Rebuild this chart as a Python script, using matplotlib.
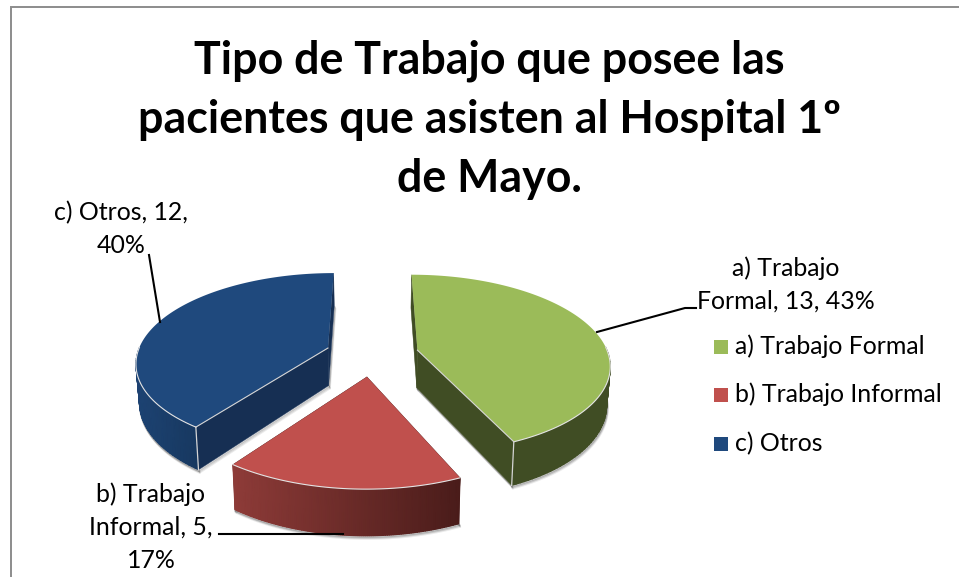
import numpy as np
import matplotlib
matplotlib.use("Agg")
import matplotlib.pyplot as plt
from matplotlib.colors import LinearSegmentedColormap

plt.rcParams['font.family'] = ['Lato', 'DejaVu Sans']

title_lines = ["Tipo de Trabajo que posee las",
               "pacientes que asisten al Hospital 1º",
               "de Mayo."]
categories = ["a) Trabajo Formal", "b) Trabajo Informal", "c) Otros"]
values = [13, 5, 12]
percents = [43, 17, 40]

top_colors = ["#9BBB59", "#C0504D", "#1F497D"]
cut_colors = ["#404D24", "#4F1F1D", "#162F53"]
rim_left = ["#404D24", "#8E3B38", "#1D4373"]
rim_right = ["#404D24", "#4A1C1A", "#173860"]

# projection of the tilted pie, in pixels
vx, vy = 372.0, 354.6
rx, ry = 191.0, 88.0
persp = 0.15
depth = 38.0
explode = 0.245


def project(X, Y, low=False):
    s = 1.0 / (1.0 - persp * Y)
    if low:
        return vx + rx * X * s * 0.985, vy + ry * Y * s + depth * s
    return vx + rx * X * s, vy + ry * Y * s


fig = plt.figure(figsize=(9.59, 5.77), dpi=100)
ax = fig.add_axes([0, 0, 1, 1])
ax.set_xlim(0, 959)
ax.set_ylim(577, 0)
ax.axis('off')

# frame of the chart area
ax.plot([11, 11, 959], [577, 7, 7], color="#8C8C8C", lw=1.4, solid_joinstyle='miter')

order = [0, 2, 1]
fractions = np.array(values) / sum(values)
edges = np.concatenate([[0], np.cumsum(fractions)]) * 2 * np.pi

for i in order:
    a0, a1 = edges[i], edges[i + 1]
    mid = (a0 + a1) / 2
    cx, cy = explode * np.sin(mid), -explode * np.cos(mid)
    t = np.linspace(a0, a1, 120)
    X = cx + np.sin(t)
    Y = cy - np.cos(t)
    xt, yt = project(X, Y)
    xb, yb = project(X, Y, low=True)
    ax_t, ay_t = project(cx, cy)
    ax_b, ay_b = project(cx, cy, low=True)
    vis = Y > -0.1

    # soft shadow under the front edge
    for off, alpha in [(3, 0.08), (2, 0.14), (1, 0.2)]:
        ax.plot(xb[vis] + off * 0.4, yb[vis] + off, color="black", alpha=alpha, lw=1.5, zorder=1)
        ax.plot([ax_b + off * 0.5, xb[0] + off * 0.5], [ay_b + off, yb[0] + off], color="black", alpha=alpha, lw=1.0, zorder=1)
        ax.plot([ax_b + off * 0.5, xb[-1] + off * 0.5], [ay_b + off, yb[-1] + off], color="black", alpha=alpha, lw=1.0, zorder=1)

    # cut faces
    for k in [0, -1]:
        ax.fill([ax_t, xt[k], xb[k], ax_b], [ay_t, yt[k], yb[k], ay_b],
                color=cut_colors[i], lw=0.3, zorder=2)

    # outer side, shading runs left to right
    cmap = LinearSegmentedColormap.from_list("rim", [rim_left[i], rim_right[i]])
    mesh_x = np.array([xt[vis], xb[vis]])
    mesh_y = np.array([yt[vis], yb[vis]])
    ax.pcolormesh(mesh_x, mesh_y, mesh_x, cmap=cmap, shading='gouraud', zorder=3)

    # top
    ax.fill(np.r_[ax_t, xt], np.r_[ay_t, yt], color=top_colors[i], lw=0, zorder=4)

    # pale highlights on the visible edges
    ax.plot(xt[vis], yt[vis], color="#E4E4E4", lw=0.8, zorder=5)
    for k in [0, -1]:
        if i != 1 and Y[k] > 0:
            ax.plot([ax_t, xt[k]], [ay_t, yt[k]], color="#D5D5D5", lw=0.8, zorder=5)
            ax.plot([xt[k], xb[k]], [yt[k], yb[k]], color="#D5D5D5", lw=0.9, zorder=5)

# reset limits, pcolormesh may have touched them
ax.set_xlim(0, 959)
ax.set_ylim(577, 0)

# leader lines
ax.plot([597, 685, 696], [332, 308, 308], color="black", lw=1.5, zorder=6)
ax.plot([149, 160], [255, 322], color="black", lw=1.5, zorder=6)
ax.plot([219, 343], [534, 534], color="black", lw=1.5, zorder=6)

# title
for line, y in zip(title_lines, [73, 133, 192]):
    ax.text(489, y, line, ha='center', va='baseline', fontsize=32.2, fontweight='bold', color="black")

# data labels
label_size = 17.9
lab_a = [categories[0].rsplit(" ", 1)[0], f"{categories[0].rsplit(' ', 1)[1]}, {values[0]}, {percents[0]}%"]
lab_b = [categories[1].rsplit(" ", 1)[0], f"{categories[1].rsplit(' ', 1)[1]}, {values[1]},", f"{percents[1]}%"]
lab_c = [f"{categories[2]}, {values[2]},", f"{percents[2]}%"]
for line, y in zip(lab_a, [276, 309]):
    ax.text(786, y, line, ha='center', va='baseline', fontsize=label_size)
for line, y in zip(lab_b, [502, 535, 568]):
    ax.text(151, y, line, ha='center', va='baseline', fontsize=label_size)
for line, y in zip(lab_c, [220, 253]):
    ax.text(121, y, line, ha='center', va='baseline', fontsize=label_size)

# legend
for name, color, y in zip(categories, top_colors, [347, 395, 444]):
    ax.scatter([721], [y], marker='s', s=90, color=color, linewidths=0)
    ax.text(735, y + 7, name, ha='left', va='baseline', fontsize=label_size)

fig.savefig("out.png", dpi=100)
